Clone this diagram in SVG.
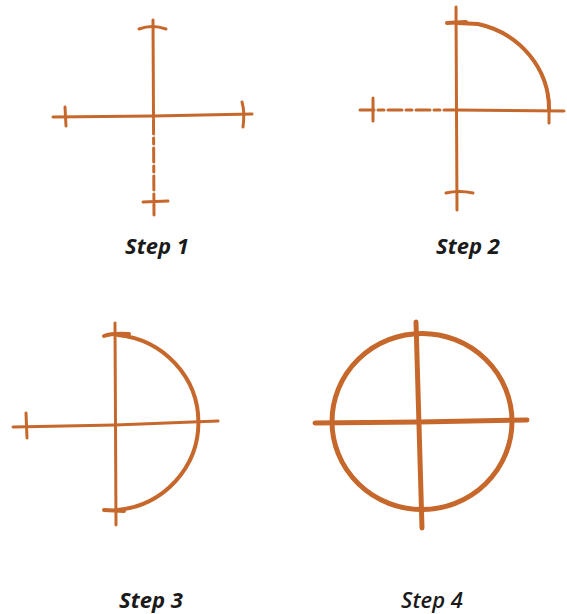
<svg xmlns="http://www.w3.org/2000/svg" width="567" height="614" viewBox="0 0 567 614">
<style>
.s{fill:none;stroke:#C6682C;stroke-width:3;stroke-linecap:round;stroke-linejoin:round}
.t{stroke-width:4}
.b{stroke-width:5}
.d{stroke-dasharray:14 4 6 4}
.lbl{font-family:"Open Sans","Liberation Sans",sans-serif;font-size:22px;font-style:italic;font-weight:700;fill:#1a1a1a;text-anchor:middle}
</style>
<rect width="567" height="614" fill="#fff"/>
<g id="step1">
<path class="s" d="M153 20 L153.5 118"/>
<path class="s d" d="M153.5 120 L154 215"/>
<path class="s" d="M139 29 Q152 24 166 29"/>
<path class="s" d="M143 202 L168 201"/>
<path class="s" d="M53 117 L153 116 L252 114"/>
<path class="s" d="M65 107 L66 126"/>
<path class="s" d="M242 102 Q245 112 243 127"/>
<text class="lbl" x="157" y="254">Step 1</text>
</g>
<g id="step2">
<path class="s" d="M456 7 L457 210"/>
<path class="s t" d="M447 23 L466 22"/>
<path class="s" d="M446 193 Q459 190 473 193"/>
<path class="s d" d="M360 110 L456 110"/>
<path class="s" d="M456 110 L564 111"/>
<path class="s" d="M373 98 L373 121"/>
<path class="s t" d="M458 23 L478 24 A91 87 0 0 1 549 110"/>
<path class="s" d="M549 100 L549 123"/>
<text class="lbl" x="468" y="254">Step 2</text>
</g>
<g id="step3">
<path class="s" d="M115 323 L116 525"/>
<path class="s t" d="M104 336 Q112 333 129 334"/>
<path class="s t" d="M104 510 L124 511"/>
<path class="s" d="M13 427 L115 425 L218 421"/>
<path class="s" d="M26 413 L27 438"/>
<path class="s t" d="M118 335 A90 88 0 0 1 118 510"/>
<text class="lbl" x="151" y="608">Step 3</text>
</g>
<g id="step4">
<ellipse class="s b" cx="422" cy="421.5" rx="90" ry="88"/>
<path class="s b" d="M416 322 L422 528"/>
<path class="s b" d="M315 423 L419 422 L527 420"/>
<text class="lbl" x="432" y="608" style="font-weight:600">Step 4</text>
</g>
</svg>
